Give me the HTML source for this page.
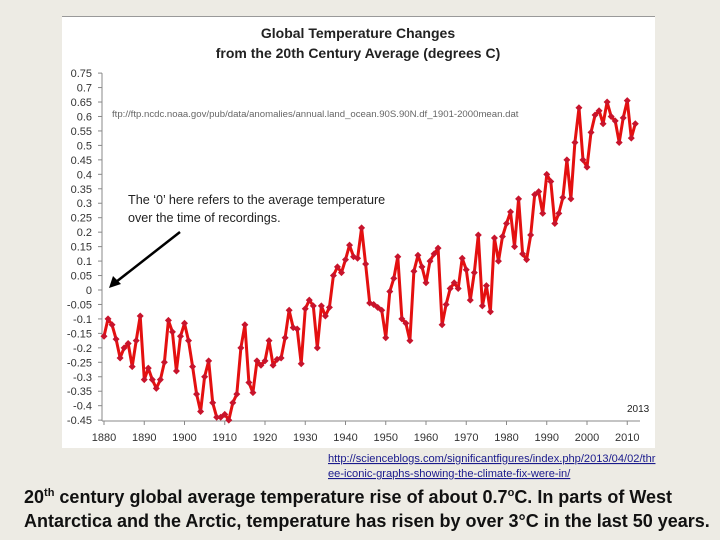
<!DOCTYPE html>
<html><head><meta charset="utf-8"><style>
body{margin:0;width:720px;height:540px;background:#edebe4;overflow:hidden;font-family:"Liberation Sans",sans-serif;}
svg{position:absolute;left:0;top:0}
</style></head><body>
<svg width="720" height="540">
<rect x="62" y="16" width="593" height="432" fill="#fff"/>
<line x1="62" y1="16.5" x2="655" y2="16.5" stroke="#999"/>
<text x="358" y="38" text-anchor="middle" font-size="14" font-weight="bold" fill="#222">Global Temperature Changes</text>
<text x="358" y="58" text-anchor="middle" font-size="14" font-weight="bold" fill="#222">from the 20th Century Average (degrees C)</text>
<text x="112" y="117" font-size="9.6" fill="#666">ftp://ftp.ncdc.noaa.gov/pub/data/anomalies/annual.land_ocean.90S.90N.df_1901-2000mean.dat</text>
<g id="axes"></g>
<g id="series"></g>
<text x="128" y="204" font-size="12.6" fill="#222">The ‘0’ here refers to the average temperature</text>
<text x="128" y="222" font-size="12.6" fill="#222">over the time of recordings.</text>
<line x1="180" y1="232" x2="116" y2="282" stroke="#000" stroke-width="2.5"/>
<polygon points="109,288 113,276 121,284" fill="#000"/>
<text x="627" y="412" font-size="10" fill="#222">2013</text>
<text x="328" y="462" font-size="11.1" fill="#1a1a8c" text-decoration="underline">http://scienceblogs.com/significantfigures/index.php/2013/04/02/thr</text>
<text x="328" y="477" font-size="11.1" fill="#1a1a8c" text-decoration="underline">ee-iconic-graphs-showing-the-climate-fix-were-in/</text>
<text x="24" y="503" font-size="18" font-weight="bold" fill="#111">20<tspan font-size="11" dy="-7">th</tspan><tspan dy="7"> century global average temperature rise of about 0.7</tspan><tspan font-size="11" dy="-7">o</tspan><tspan dy="7">C. In parts of West</tspan></text>
<text x="24" y="527" font-size="18" font-weight="bold" fill="#111">Antarctica and the Arctic, temperature has risen by over 3°C in the last 50 years.</text>
</svg>
<script>
const startYear = 1880;
const anomalies = [-0.16,-0.10,-0.12,-0.17,-0.235,-0.20,-0.185,-0.265,-0.175,-0.09,
-0.31,-0.27,-0.31,-0.34,-0.31,-0.25,-0.105,-0.145,-0.28,-0.16,
-0.115,-0.175,-0.265,-0.36,-0.42,-0.30,-0.245,-0.39,-0.44,-0.44,
-0.43,-0.45,-0.39,-0.36,-0.20,-0.12,-0.32,-0.355,-0.245,-0.26,
-0.245,-0.175,-0.26,-0.24,-0.235,-0.165,-0.07,-0.13,-0.135,-0.255,
-0.065,-0.035,-0.055,-0.20,-0.055,-0.09,-0.06,0.05,0.08,0.06,
0.105,0.155,0.115,0.11,0.215,0.09,-0.045,-0.05,-0.06,-0.07,
-0.165,-0.005,0.04,0.115,-0.10,-0.115,-0.175,0.065,0.12,0.08,
0.025,0.10,0.125,0.145,-0.12,-0.05,0.005,0.025,0.005,0.11,
0.07,-0.035,0.06,0.19,-0.055,0.015,-0.075,0.18,0.10,0.185,
0.23,0.27,0.15,0.315,0.125,0.105,0.19,0.33,0.34,0.265,
0.40,0.375,0.23,0.265,0.32,0.45,0.315,0.51,0.63,0.45,
0.425,0.545,0.605,0.62,0.575,0.65,0.60,0.585,0.51,0.595,
0.655,0.525,0.575];
const yTicks = [0.75,0.7,0.65,0.6,0.55,0.5,0.45,0.4,0.35,0.3,0.25,0.2,0.15,0.1,0.05,0,-0.05,-0.1,-0.15,-0.2,-0.25,-0.3,-0.35,-0.4,-0.45];
const xTicks = [1880,1890,1900,1910,1920,1930,1940,1950,1960,1970,1980,1990,2000,2010];
const NS='http://www.w3.org/2000/svg';
const X = yr => 104 + (yr-1880)*4.025;
const Y = v => 290 - v*289.2;
function mk(tag, attrs, parent){const e=document.createElementNS(NS,tag);for(const k in attrs)e.setAttribute(k,attrs[k]);parent.appendChild(e);return e;}
const ax=document.getElementById('axes'), sr=document.getElementById('series');
let a=mk('line',{x1:102,y1:Y(0.75),x2:102,y2:421,stroke:'#888'},ax);


a=mk('line',{x1:102,y1:421,x2:640,y2:421,stroke:'#888'},ax);


yTicks.forEach(v=>{
  const t=mk('line',{x1:98,y1:Y(v),x2:102,y2:Y(v),stroke:'#888'},ax);
  
  
  const l=mk('text',{x:92,y:Y(v)+4,'text-anchor':'end','font-size':11,fill:'#333'},ax);
  l.textContent=String(v);
  
  
});
xTicks.forEach(yr=>{
  const t=mk('line',{x1:X(yr),y1:421,x2:X(yr),y2:425,stroke:'#888'},ax);
  
  
  const l=mk('text',{x:X(yr),y:441,'text-anchor':'middle','font-size':11,fill:'#333'},ax);
  l.textContent=String(yr);
  
  
});
const pts=anomalies.map((v,i)=>X(startYear+i).toFixed(1)+','+Y(v).toFixed(1)).join(' ');
const pl=mk('polyline',{points:pts,fill:'none',stroke:'#e41010','stroke-width':3,'stroke-linejoin':'round'},sr);


anomalies.forEach((v,i)=>{
  const cx=X(startYear+i), cy=Y(v);
  const m=mk('polygon',{points:`${cx},${cy-3.5} ${cx+3.5},${cy} ${cx},${cy+3.5} ${cx-3.5},${cy}`,fill:'#c8142c'},sr);
  
  
});
</script>
</body></html>
